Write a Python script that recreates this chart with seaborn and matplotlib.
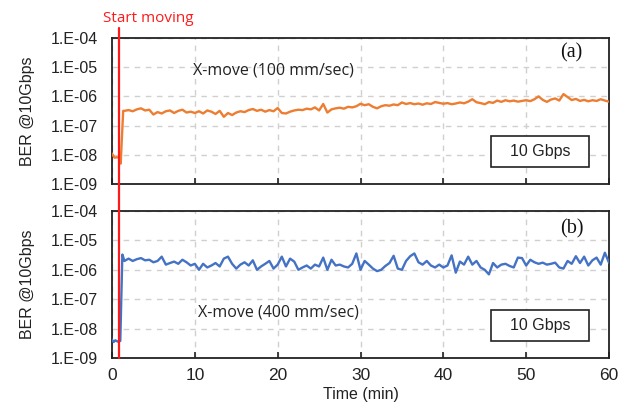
import numpy as np
import pandas as pd
import matplotlib
matplotlib.use("Agg")
import matplotlib.pyplot as plt
from matplotlib.patches import Rectangle
from matplotlib.ticker import FixedLocator, FixedFormatter, NullLocator
import seaborn as sns

# ---------------- data ----------------
start_time = 0.9
t_pre_a = [0.0, 0.3, 0.6, 0.9, 1.05, 1.35]
ber_pre_a = [1.1e-8, 8.0e-9, 8.2e-9, 8.0e-9, 5.0e-9, 3.2e-7]
t_pre_b = [0.0, 0.2, 0.4, 0.7, 1.0, 1.25]
ber_pre_b = [4.2e-9, 3.5e-9, 4.0e-9, 3.6e-9, 3.8e-9, 3.3e-6]

t_main = [1.5 + 0.5 * i for i in range(118)]

ber_a = [
    3.2e-7, 3.4e-7, 3.1e-7, 3.6e-7, 3.9e-7, 3.3e-7, 3.5e-7, 2.4e-7, 2.9e-7, 2.6e-7,
    3.1e-7, 3.3e-7, 2.7e-7, 3.2e-7, 3.5e-7, 2.8e-7, 3.0e-7, 2.7e-7, 3.1e-7, 2.6e-7,
    3.3e-7, 3.0e-7, 2.5e-7, 3.2e-7, 2.0e-7, 2.7e-7, 2.3e-7, 2.8e-7, 3.1e-7, 2.9e-7,
    3.4e-7, 3.7e-7, 3.2e-7, 3.5e-7, 3.0e-7, 3.4e-7, 3.1e-7, 4.0e-7, 2.7e-7, 2.6e-7,
    3.0e-7, 3.3e-7, 3.5e-7, 3.4e-7, 3.8e-7, 3.6e-7, 4.2e-7, 3.3e-7, 5.5e-7, 2.8e-7,
    3.6e-7, 3.9e-7, 4.1e-7, 3.8e-7, 4.4e-7, 4.2e-7, 4.6e-7, 5.6e-7, 5.0e-7, 5.4e-7,
    4.4e-7, 3.9e-7, 4.6e-7, 5.0e-7, 4.8e-7, 5.3e-7, 5.0e-7, 6.2e-7, 5.5e-7, 5.9e-7,
    5.4e-7, 5.7e-7, 5.2e-7, 5.8e-7, 5.5e-7, 6.4e-7, 6.0e-7, 5.6e-7, 5.9e-7, 5.4e-7,
    5.7e-7, 6.2e-7, 5.8e-7, 6.6e-7, 8.0e-7, 6.3e-7, 5.9e-7, 5.4e-7, 6.4e-7, 6.0e-7,
    7.2e-7, 6.5e-7, 7.4e-7, 6.8e-7, 7.2e-7, 6.6e-7, 7.0e-7, 7.4e-7, 6.9e-7, 8.0e-7,
    1.0e-6, 7.6e-7, 6.5e-7, 7.8e-7, 8.5e-7, 7.2e-7, 1.2e-6, 9.5e-7, 7.5e-7, 8.2e-7,
    7.0e-7, 7.6e-7, 6.8e-7, 7.4e-7, 7.0e-7, 8.0e-7, 7.2e-7, 6.6e-7,
]

ber_b = [
    2.0e-6, 2.4e-6, 2.0e-6, 2.3e-6, 2.5e-6, 2.1e-6, 2.2e-6, 1.8e-6, 2.0e-6, 2.8e-6,
    1.5e-6, 1.7e-6, 1.9e-6, 1.6e-6, 2.2e-6, 1.8e-6, 1.4e-6, 1.6e-6, 1.0e-6, 1.6e-6,
    1.2e-6, 1.4e-6, 1.7e-6, 1.3e-6, 2.4e-6, 2.8e-6, 1.6e-6, 1.1e-6, 1.5e-6, 1.8e-6,
    1.4e-6, 2.1e-6, 1.0e-6, 1.3e-6, 1.6e-6, 2.0e-6, 1.1e-6, 1.5e-6, 2.8e-6, 1.3e-6,
    2.4e-6, 1.9e-6, 1.0e-6, 1.2e-6, 1.4e-6, 1.1e-6, 1.5e-6, 1.3e-6, 2.6e-6, 1.0e-6,
    2.2e-6, 1.4e-6, 1.5e-6, 1.3e-6, 1.2e-6, 1.6e-6, 3.6e-6, 1.0e-6, 2.0e-6, 1.5e-6,
    1.1e-6, 9.0e-7, 1.0e-6, 1.35e-6, 1.7e-6, 3.0e-6, 1.1e-6, 1.0e-6, 2.0e-6, 2.9e-6,
    3.6e-6, 1.8e-6, 1.5e-6, 2.0e-6, 1.4e-6, 1.2e-6, 1.5e-6, 1.2e-6, 1.4e-6, 3.1e-6,
    8.0e-7, 1.9e-6, 1.5e-6, 2.8e-6, 1.5e-6, 2.0e-6, 1.2e-6, 1.0e-6, 7.0e-7, 1.7e-6,
    1.2e-6, 1.5e-6, 1.6e-6, 1.35e-6, 1.2e-6, 2.6e-6, 2.5e-6, 1.4e-6, 2.2e-6, 1.8e-6,
    1.6e-6, 1.75e-6, 1.5e-6, 1.6e-6, 1.75e-6, 1.2e-6, 1.1e-6, 2.0e-6, 1.6e-6, 2.9e-6,
    1.7e-6, 2.8e-6, 1.4e-6, 2.1e-6, 2.6e-6, 1.5e-6, 3.8e-6, 1.75e-6,
]

y_ticks = [1e-9, 1e-8, 1e-7, 1e-6, 1e-5, 1e-4]
y_tick_labels = ["1.E-09", "1.E-08", "1.E-07", "1.E-06", "1.E-05", "1.E-04"]
x_ticks = [0, 10, 20, 30, 40, 50, 60]
x_tick_labels = ["0", "10", "20", "30", "40", "50", "60"]

panels = [
    dict(t=t_pre_a + t_main, ber=ber_pre_a + ber_a, color="#ED7D31",
         note="X-move (100 mm/sec)", note_xy=(9.8, 10 ** -5.1), tag="(a)"),
    dict(t=t_pre_b + t_main, ber=ber_pre_b + ber_b, color="#4472C4",
         note="X-move (400 mm/sec)", note_xy=(10.4, 10 ** -7.44), tag="(b)"),
]

# ---------------- figure ----------------
sns.set_theme(style="white")
plt.rcParams["font.family"] = ["Liberation Sans", "DejaVu Sans"]

W, H = 629, 409
fig = plt.figure(figsize=(W / 100, H / 100), dpi=100)
left, right = 112 / W, 609 / W
ax_top = fig.add_axes([left, 1 - 184 / H, right - left, 146 / H])
ax_bot = fig.add_axes([left, 1 - 358 / H, right - left, 147 / H])

for ax, p in zip([ax_top, ax_bot], panels):
    df = pd.DataFrame({"time": p["t"], "ber": p["ber"]})
    sns.lineplot(data=df, x="time", y="ber", ax=ax, color=p["color"],
                 linewidth=1.7, zorder=3)
    ax.set_yscale("log")
    ax.set_ylim(1e-9, 1e-4)
    ax.set_xlim(0, 60)
    ax.yaxis.set_major_locator(FixedLocator(y_ticks))
    ax.yaxis.set_major_formatter(FixedFormatter(y_tick_labels))
    ax.yaxis.set_minor_locator(NullLocator())
    ax.xaxis.set_major_locator(FixedLocator(x_ticks))
    ax.set_xticklabels(x_tick_labels)
    ax.grid(True, which="major", color="#D0D0D0", linestyle=(0, (4, 4)),
            linewidth=1.0, zorder=0)
    for s in ax.spines.values():
        s.set_color("#222222")
        s.set_linewidth(1.3)
        s.set_visible(True)
    ax.tick_params(axis="y", length=0, pad=10, labelsize=11.5, colors="#222222")
    ax.tick_params(axis="x", direction="in", length=4, width=1.2, pad=7,
                   labelsize=12.5, colors="#222222", bottom=True)
    ax.set_ylabel("BER @10Gbps", fontsize=11.5, labelpad=6, color="#222222")
    ax.set_xlabel("")
    ax.text(p["note_xy"][0], p["note_xy"][1], p["note"], fontsize=11.5,
            family=["Open Sans", "DejaVu Sans"], va="center", ha="left",
            color="#222222", zorder=4)
    ax.text(0.925, 0.9 if p["tag"] == "(a)" else 0.88, p["tag"],
            transform=ax.transAxes, fontsize=14.5,
            family=["Liberation Serif", "DejaVu Serif"], ha="center", va="center",
            color="#111111")
    ax.add_patch(Rectangle((0.763, 0.116), 0.197, 0.212, transform=ax.transAxes,
                           facecolor="white", edgecolor="#222222", linewidth=1.2,
                           zorder=5))
    ax.text(0.8615, 0.222, "10 Gbps", transform=ax.transAxes, fontsize=11.5,
            ha="center", va="center", color="#222222", zorder=6)

ax_top.tick_params(axis="x", labelbottom=False)
ax_bot.set_xlabel("Time (min)", fontsize=11.5, labelpad=3, color="#222222")

ax_top.yaxis.set_label_coords(-0.155, 0.5)
ax_bot.yaxis.set_label_coords(-0.155, 0.5)

# Start moving marker spanning both panels
ax_bot.axvline(start_time, ymin=0, ymax=(358 - 28) / 147, clip_on=False,
               color="#FF1A1A", linewidth=1.6, zorder=10)
fig.text(148 / W, 1 - 19 / H, "Start moving", color="#FF1A1A", fontsize=11,
         family=["Open Sans", "DejaVu Sans"], ha="center", va="center")

fig.savefig("out.png", dpi=100, facecolor="white")
